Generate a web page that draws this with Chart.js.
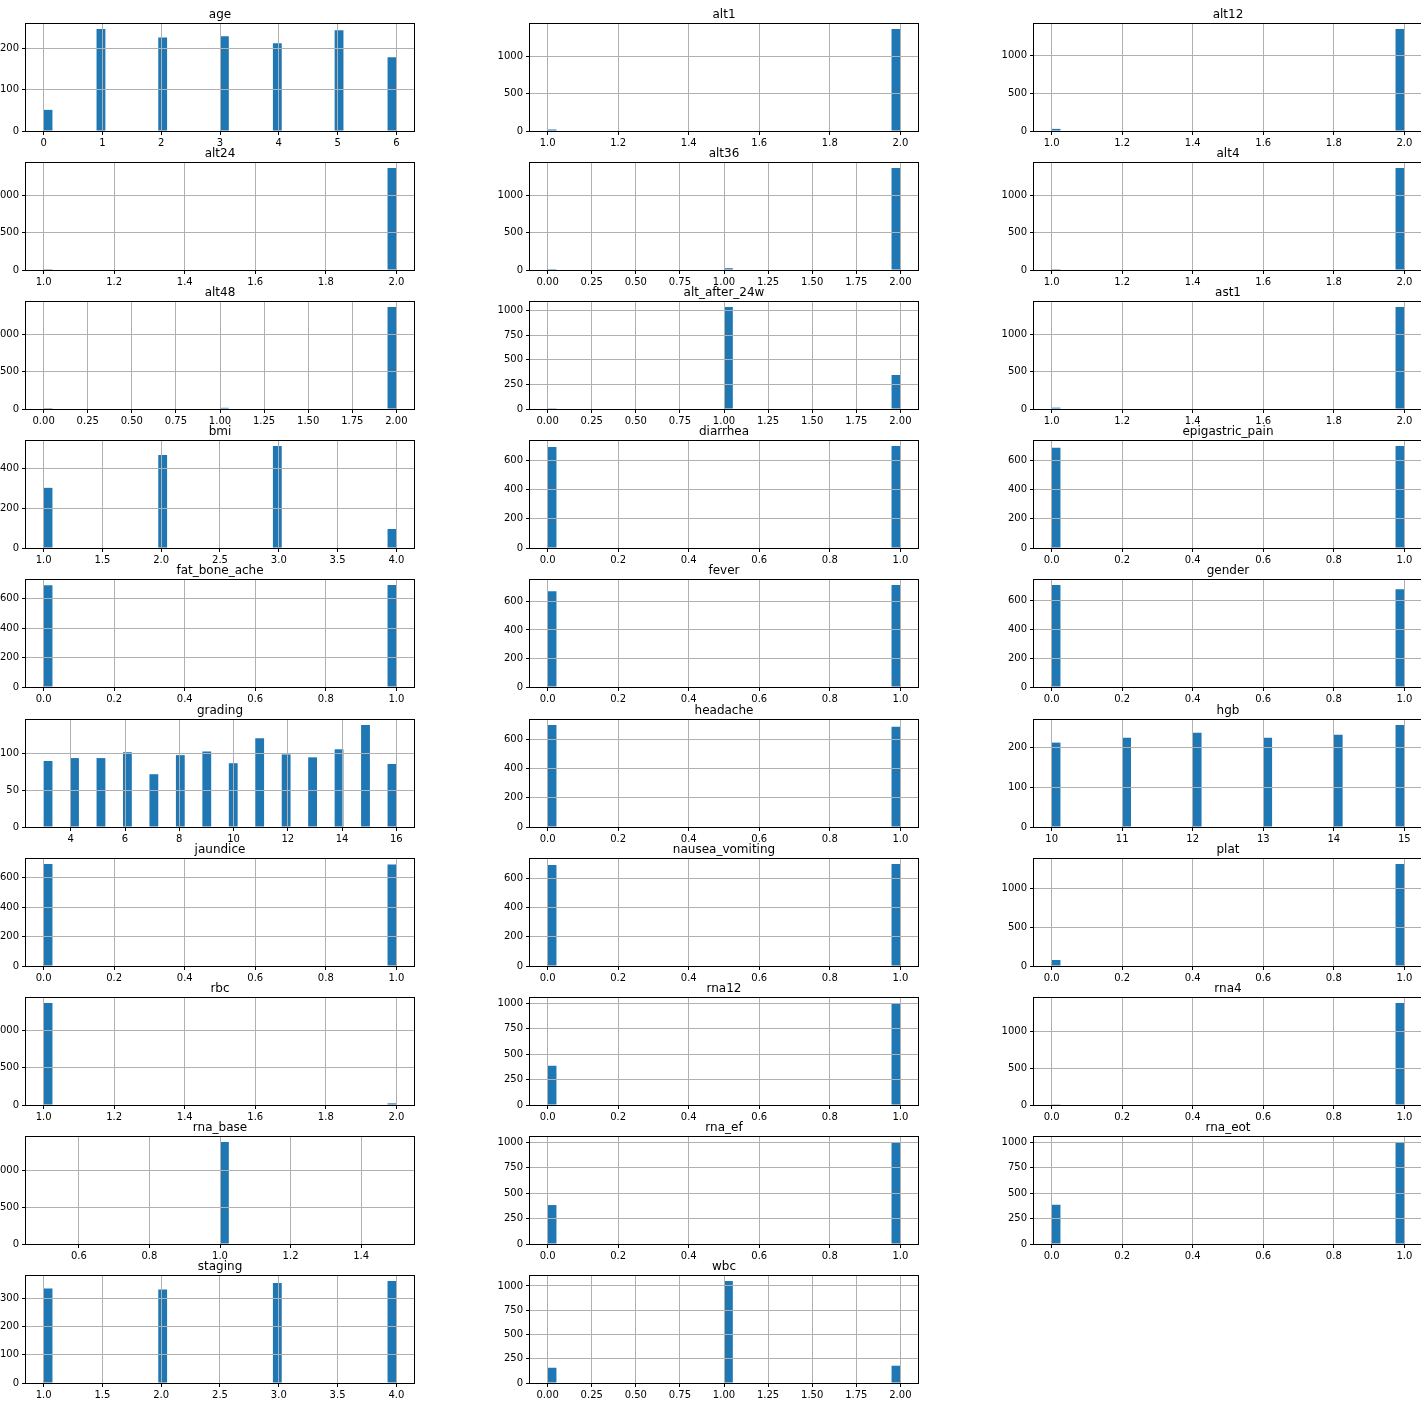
<!DOCTYPE html>
<html><head><meta charset="utf-8">
<script src="https://cdn.jsdelivr.net/npm/chart.js@4.4.1/dist/chart.umd.min.js"></script>
<style>
html,body{margin:0;padding:0;background:#fff;overflow:hidden;}
#wrap{position:relative;width:1421px;height:1401px;overflow:hidden;background:#fff;}
canvas{position:absolute;}
</style></head><body><div id="wrap"></div>
<script>
// ---------- data ----------
const names = ["age","alt1","alt12","alt24","alt36","alt4","alt48","alt_after_24w","ast1",
  "bmi","diarrhea","epigastric_pain","fat_bone_ache","fever","gender","grading","headache","hgb",
  "jaundice","nausea_vomiting","plat","rbc","rna12","rna4","rna_base","rna_ef","rna_eot","staging","wbc"];

// distinct observed values of each column
const binValues = [
  [0,1,2,3,4,5,6], [1,2], [1,2], [1,2], [0,1,2], [1,2], [0,1,2], [0,1,2], [1,2],
  [1,2,3,4], [0,1], [0,1], [0,1], [0,1], [0,1], [3,4,5,6,7,8,9,10,11,12,13,14,15,16], [0,1], [10,11,12,13,14,15],
  [0,1], [0,1], [0,1], [1,2], [0,1], [0,1], [1], [0,1], [0,1], [1,2,3,4], [0,1,2]
];
// count of rows for each of those values
const binCounts = [
  [51,246,226,229,212,243,178], [20,1365], [28,1357], [12,1373], [1,24,1360], [12,1373], [1,16,1368], [2,1037,346], [18,1367],
  [304,470,515,96], [689,696], [687,698], [692,693], [671,714], [707,678], [90,94,94,102,72,98,103,87,121,99,95,106,139,86], [698,687], [212,224,237,224,232,256],
  [694,691], [689,696], [77,1308], [1363,22], [385,1000], [3,1382], [1385], [383,1002], [385,1000], [336,332,355,362], [157,1050,178]
];

// tick label sets
const T_AGE = ["0","1","2","3","4","5","6"];
const T_12 = ["1.0","1.2","1.4","1.6","1.8","2.0"];
const T_02Q = ["0.00","0.25","0.50","0.75","1.00","1.25","1.50","1.75","2.00"];
const T_14 = ["1.0","1.5","2.0","2.5","3.0","3.5","4.0"];
const T_01 = ["0.0","0.2","0.4","0.6","0.8","1.0"];
const T_GRAD = ["4","6","8","10","12","14","16"];
const T_HGB = ["10","11","12","13","14","15"];
const T_BASE = ["0.6","0.8","1.0","1.2","1.4"];

const xTickLabels = [
  T_AGE, T_12, T_12, T_12, T_02Q, T_12, T_02Q, T_02Q, T_12,
  T_14, T_01, T_01, T_01, T_01, T_01, T_GRAD, T_01, T_HGB,
  T_01, T_01, T_01, T_12, T_01, T_01, T_BASE, T_01, T_01, T_14, T_02Q
];

const Y_AGE = [0,100,200];
const Y_K = [0,500,1000];
const Y_Q = [0,250,500,750,1000];
const Y_BMI = [0,200,400];
const Y_BIN = [0,200,400,600];
const Y_GRAD = [0,50,100];
const Y_STG = [0,100,200,300];
const yTickValues = [
  Y_AGE, Y_K, Y_K, Y_K, Y_K, Y_K, Y_K, Y_Q, Y_K,
  Y_BMI, Y_BIN, Y_BIN, Y_BIN, Y_BIN, Y_BIN, Y_GRAD, Y_BIN, Y_AGE,
  Y_BIN, Y_BIN, Y_K, Y_K, Y_Q, Y_K, Y_K, Y_Q, Y_Q, Y_STG, Y_Q
];

// ---------- layout ----------
const NBINS = 40;
const colLeft = [26, 530, 1034];
const rowTop0 = 24, rowStep = 139.1;
const AX_W = 388, AX_H = 107;
const PAD_L = 44, PAD_T = 24, PAD_R = 20, PAD_B = 22;
const FONT = "'DejaVu Sans', 'Liberation Sans', sans-serif";

Chart.defaults.font.family = FONT;
Chart.defaults.font.size = 10;
Chart.defaults.color = '#000';

const spines = {
  id: 'spines',
  afterDraw(chart) {
    const a = chart.chartArea, ctx = chart.ctx;
    const l = Math.round(a.left), t = Math.round(a.top), r = Math.round(a.right), b = Math.round(a.bottom);
    ctx.save();
    ctx.strokeStyle = '#000';
    ctx.lineWidth = 1;
    ctx.strokeRect(l - 0.5, t - 0.5, r - l + 1, b - t + 1);
    ctx.restore();
  }
};

const wrap = document.getElementById('wrap');

names.forEach((name, k) => {
  const vals = binValues[k], cnts = binCounts[k];
  let lo = Math.min(...vals), hi = Math.max(...vals);
  if (lo === hi) { lo -= 0.5; hi += 0.5; }
  const span = hi - lo;
  const w = span / NBINS;
  // histogram table (numpy-style binning of the observed values)
  const bins = [];
  for (let i = 0; i < NBINS; i++) bins.push(0);
  vals.forEach((v, j) => {
    let idx = Math.floor((v - lo) / span * NBINS + 1e-9);
    if (idx >= NBINS) idx = NBINS - 1;
    bins[idx] += cnts[j];
  });
  const data = bins.map((c, i) => ({ x: lo + (i + 0.5) * w, y: c }));
  const xMin = lo - 0.05 * span, xMax = hi + 0.05 * span;
  const yMax = 1.05 * Math.max(...cnts);
  const xt = xTickLabels[k], xv = xt.map(Number);
  const yt = yTickValues[k];

  const r = Math.floor(k / 3), c = k % 3;
  const cv = document.createElement('canvas');
  cv.width = AX_W + PAD_L + PAD_R;
  cv.height = AX_H + PAD_T + PAD_B;
  cv.style.width = cv.width + 'px';
  cv.style.height = cv.height + 'px';
  cv.style.left = (colLeft[c] - PAD_L) + 'px';
  cv.style.top = (Math.round(rowTop0 + r * rowStep) - PAD_T) + 'px';
  wrap.appendChild(cv);

  const gridOpts = { color: '#b0b0b0', lineWidth: 1, z: 1, drawTicks: true, tickLength: 4, tickColor: '#000', tickWidth: 1, offset: false };

  new Chart(cv, {
    type: 'bar',
    data: { datasets: [{ data, backgroundColor: '#1f77b4', borderWidth: 0, inflateAmount: 0, barPercentage: 1, categoryPercentage: 1 }] },
    options: {
      responsive: false, animation: false, devicePixelRatio: 1, events: [],
      layout: { padding: { left: 0, top: 0, right: PAD_R, bottom: 0 }, autoPadding: false },
      plugins: {
        legend: { display: false }, tooltip: { enabled: false },
        title: { display: true, text: name, color: '#000', fullSize: false,
          font: { size: 12, family: FONT, weight: 'normal', lineHeight: 1.2 },
          padding: { top: 7.5, bottom: 2.1 } }
      },
      scales: {
        x: {
          type: 'linear', min: xMin, max: xMax, offset: false,
          grid: gridOpts, border: { display: false },
          ticks: { autoSkip: false, maxRotation: 0, minRotation: 0, padding: 2, color: '#000',
                   callback: (v, i) => xt[i] },
          afterBuildTicks: s => { s.ticks = xv.map(v => ({ value: v })); },
          afterFit: s => { s.height = PAD_B; }
        },
        y: {
          type: 'linear', min: 0, max: yMax,
          grid: gridOpts, border: { display: false },
          ticks: { padding: 3, color: '#000', callback: (v, i) => String(yt[i]) },
          afterBuildTicks: s => { s.ticks = yt.map(v => ({ value: v })); },
          afterFit: s => { s.width = PAD_L; }
        }
      }
    },
    plugins: [spines]
  });
});
</script></body></html>
